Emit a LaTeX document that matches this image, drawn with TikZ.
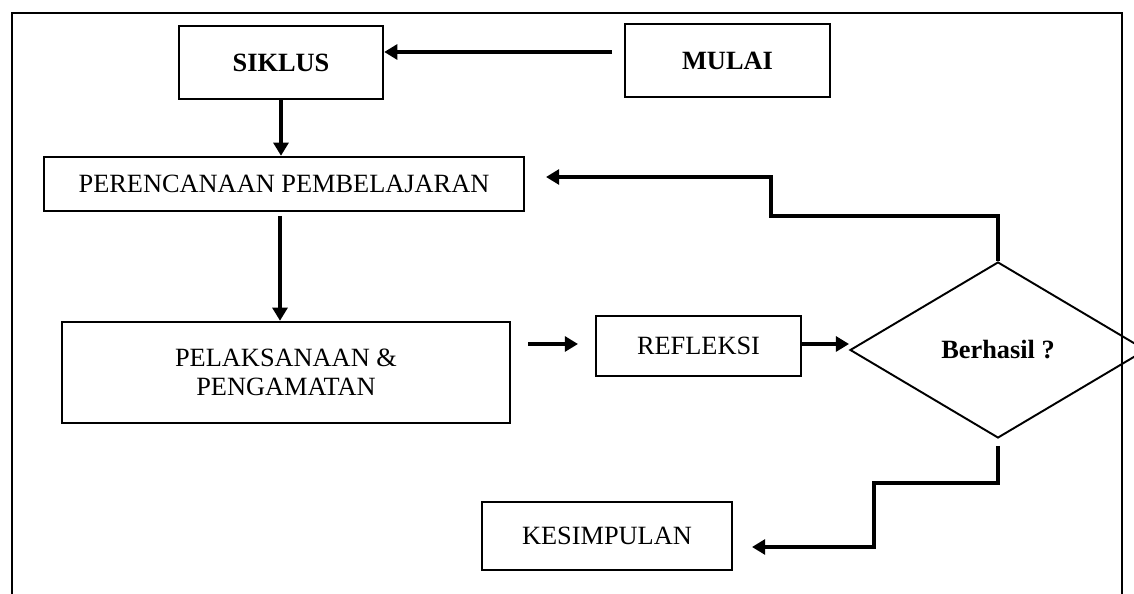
\documentclass[tikz,border=0pt]{standalone}
\usepackage{fontspec}
\setmainfont{Liberation Serif}
\usetikzlibrary{shapes.geometric,arrows.meta}
\begin{document}
\begin{tikzpicture}[x=0.02cm,y=-0.02cm,
 box/.style={draw,line width=1.4pt,inner sep=0pt,align=center,font=\fontsize{15}{16.5}\selectfont},
 dec/.style={draw,diamond,line width=1.1pt,inner sep=0pt,font=\fontsize{15}{16.5}\selectfont\bfseries},
 conn/.style={line width=2.2pt,-{Triangle[length=7.5pt,width=8.5pt]}},
 frame/.style={line width=1.4pt}]
\useasboundingbox (0,0) rectangle (1134,594);
% outer frame (open at the bottom)
\coordinate (fbl) at (12,600);
\coordinate (fbr) at (1122,600);
\draw[frame] (fbl) -- (12,13) -- (1122,13) -- (fbr);
% nodes
\node[box,minimum width=4.08cm,minimum height=1.46cm,font=\fontsize{15}{16.5}\selectfont\bfseries] (siklus) at (281,62.5) {SIKLUS};
\node[box,minimum width=4.1cm,minimum height=1.46cm,font=\fontsize{15}{16.5}\selectfont\bfseries] (mulai) at (727.5,60.5) {MULAI};
\node[box,minimum width=9.6cm,minimum height=1.08cm] (peren) at (284,184) {PERENCANAAN PEMBELAJARAN};
\node[box,minimum width=8.96cm,minimum height=2.02cm] (pelak) at (286,372.5) {PELAKSANAAN \&\\PENGAMATAN};
\node[box,minimum width=4.1cm,minimum height=1.2cm] (refl) at (698.5,346) {REFLEKSI};
\node[dec,minimum width=5.92cm,minimum height=3.52cm] (dia) at (998,350) {Berhasil ?};
\node[box,minimum width=5.0cm,minimum height=1.36cm] (kes) at (607,536) {KESIMPULAN};
% connectors
\coordinate (a1) at (612,52);
\draw[conn] (a1) -- (a1 -| siklus.east);
\draw[conn] (siklus.south) -- (siklus.south |- peren.north);
\coordinate (a2) at (280,216);
\draw[conn] (a2) -- (a2 |- pelak.north);
\coordinate (a3s) at (528,344);
\coordinate (a3e) at (578,344);
\draw[conn] (a3s) -- (a3e);
\draw[conn] (refl.east |- a3s) -- (dia.west |- a3s);
\coordinate (a4) at (546,177);
\draw[conn] (dia.north) -- (998,216) -- (771,216) -- (771,177) -- (a4);
\coordinate (a5s) at (998,446);
\coordinate (a5e) at (752,547);
\draw[conn] (a5s) -- (998,483) -- (874,483) -- (874,547) -- (a5e);
\end{tikzpicture}
\end{document}
